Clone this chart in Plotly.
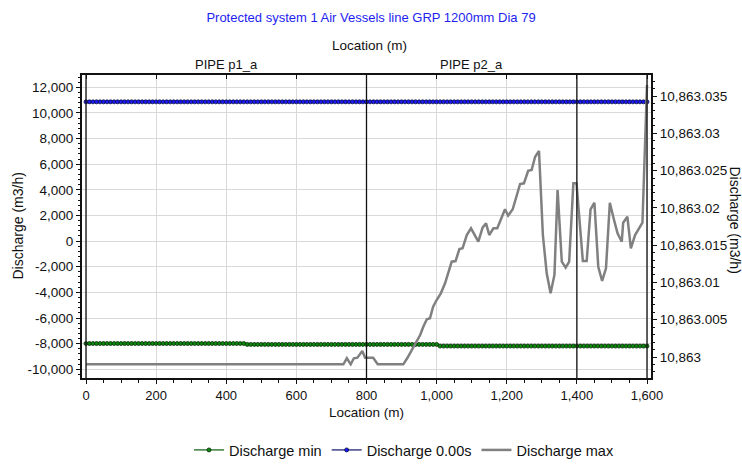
import plotly.graph_objects as go

# ---- data -------------------------------------------------------------
chart_title = "Protected system 1 Air Vessels line GRP 1200mm Dia 79"

# node locations along the line (m) for the steady / minimum envelopes
location_m = list(range(0, 1601, 10))

# initial (t = 0.00 s) discharge, constant along the line (m3/h)
initial_discharge = 10863.0

# minimum discharge envelope: piecewise constant levels (m3/h)
min_break_m = [0, 460, 1010]
min_level = [-7990, -8060, -8190]

# maximum discharge envelope (m3/h), plotted on the right-hand axis
max_location_m = [
    0, 734, 744, 755, 764, 774, 788, 796, 808, 819, 832, 905, 916, 929, 941,
    953, 962, 972, 981, 990, 1000, 1012, 1024, 1043, 1054, 1065, 1074, 1086,
    1098, 1119, 1131, 1141, 1150, 1162, 1173, 1186, 1195, 1204, 1217, 1238,
    1249, 1261, 1271, 1281, 1292, 1303, 1314, 1325, 1336, 1345, 1357, 1368,
    1378, 1390, 1399, 1417, 1428, 1439, 1450, 1461, 1472, 1483, 1494, 1506,
    1516, 1528, 1532, 1544, 1554, 1566, 1580, 1587, 1600,
]
discharge_max = [
    10862.99902, 10862.99902, 10862.99983, 10862.99902, 10862.99983,
    10862.99991, 10863.00080, 10862.99991, 10862.99991, 10862.99991,
    10862.99902, 10862.99902, 10862.99983, 10863.00094, 10863.00205,
    10863.00295, 10863.00406, 10863.00506, 10863.00519, 10863.00675,
    10863.00764, 10863.00854, 10863.00988, 10863.01278, 10863.01287,
    10863.01448, 10863.01458, 10863.01636, 10863.01726, 10863.01546,
    10863.01734, 10863.01793, 10863.01636, 10863.01726, 10863.01726,
    10863.01881, 10863.01981, 10863.01895, 10863.01981, 10863.02320,
    10863.02329, 10863.02498, 10863.02508, 10863.02686, 10863.02763,
    10863.01636, 10863.01122, 10863.00854, 10863.01100, 10863.02239,
    10863.01278, 10863.01198, 10863.01278, 10863.02329, 10863.02329,
    10863.01287, 10863.01287, 10863.01981, 10863.02069, 10863.01211,
    10863.01019, 10863.01189, 10863.02069, 10863.01837, 10863.01659,
    10863.01546, 10863.01801, 10863.01881, 10863.01458, 10863.01636,
    10863.01747, 10863.01801, 10863.03648,
]

# pipe boundaries and names (m)
pipe_bounds_m = [0, 800, 1400, 1600]
pipe_names = ["PIPE p1_a", "PIPE p2_a"]

# tick labels
x_tick_vals = [0, 200, 400, 600, 800, 1000, 1200, 1400, 1600]
x_tick_text = ["0", "200", "400", "600", "800", "1,000", "1,200", "1,400", "1,600"]
left_tick_vals = [-10000, -8000, -6000, -4000, -2000, 0, 2000, 4000, 6000,
                  8000, 10000, 12000]
left_tick_text = ["-10,000", "-8,000", "-6,000", "-4,000", "-2,000", "0",
                  "2,000", "4,000", "6,000", "8,000", "10,000", "12,000"]
right_tick_vals = [10863.0, 10863.005, 10863.01, 10863.015, 10863.02,
                   10863.025, 10863.03, 10863.035]
right_tick_text = ["10,863", "10,863.005", "10,863.01", "10,863.015",
                   "10,863.02", "10,863.025", "10,863.03", "10,863.035"]

# ---- derived series ---------------------------------------------------
discharge_initial = [initial_discharge for _ in location_m]
discharge_min = []
for x in location_m:
    level = min_level[0]
    for b, v in zip(min_break_m, min_level):
        if x >= b:
            level = v
    discharge_min.append(level)

pipe_centres = [(a + b) / 2 for a, b in zip(pipe_bounds_m[:-1], pipe_bounds_m[1:])]

# ---- figure -----------------------------------------------------------
FONT = "Liberation Sans, Arial, sans-serif"
INK = "#111111"
x_range = [-11.4, 1611.4]

fig = go.Figure()

fig.add_trace(go.Scatter(
    x=location_m, y=discharge_min, name="Discharge min",
    mode="lines+markers",
    line=dict(color="#0a5a0a", width=1.2),
    marker=dict(symbol="circle", size=4, color="#0a8a0a",
                line=dict(color="#0b2a0b", width=0.8)),
))
fig.add_trace(go.Scatter(
    x=location_m, y=discharge_initial, name="Discharge 0.00s",
    mode="lines+markers",
    line=dict(color="#10106a", width=1.2),
    marker=dict(symbol="circle", size=4, color="#1a1aff",
                line=dict(color="#0a0a40", width=0.8)),
))
fig.add_trace(go.Scatter(
    x=max_location_m, y=discharge_max, name="Discharge max",
    mode="lines",
    line=dict(color="#808080", width=2.5),
    xaxis="x2", yaxis="y2",
))

# pipe boundary markers
for b in pipe_bounds_m:
    fig.add_shape(type="line", xref="x", yref="paper", x0=b, x1=b, y0=0, y1=1,
                  line=dict(color=INK, width=1.3), layer="above")

annotations = []
for c, name in zip(pipe_centres, pipe_names):
    annotations.append(dict(x=c, y=1.036, xref="x", yref="paper", text=name,
                            showarrow=False, font=dict(size=13, color=INK),
                            xanchor="center", yanchor="middle"))
annotations += [
    dict(x=0.505, y=1.099, xref="paper", yref="paper", text="Location (m)",
         showarrow=False, font=dict(size=13.5, color=INK),
         xanchor="center", yanchor="middle"),
    dict(x=0.5, y=-0.1155, xref="paper", yref="paper", text="Location (m)",
         showarrow=False, font=dict(size=13.5, color=INK),
         xanchor="center", yanchor="middle"),
    dict(x=-0.1142, y=0.5, xref="paper", yref="paper", text="Discharge (m3/h)",
         showarrow=False, textangle=-90, font=dict(size=14, color=INK),
         xanchor="center", yanchor="middle"),
    dict(x=1.1476, y=0.52, xref="paper", yref="paper", text="Discharge (m3/h)",
         showarrow=False, textangle=90, font=dict(size=14, color=INK),
         xanchor="center", yanchor="middle"),
]

axis_common = dict(showline=True, linecolor=INK, linewidth=2,
                   zeroline=False, ticks="outside", ticklen=4,
                   tickcolor=INK)

fig.update_layout(
    width=742, height=464,
    margin=dict(l=82, r=91, t=75, b=86, autoexpand=False),
    paper_bgcolor="white", plot_bgcolor="white",
    font=dict(family=FONT, color=INK),
    title=dict(text=chart_title, x=0.5, xanchor="center", y=1 - 17 / 464,
               yanchor="middle", font=dict(size=13, color="#1e1ef0")),
    showlegend=True,
    legend=dict(orientation="h", xref="container", yref="container",
                x=404 / 742, xanchor="center", y=1 - 450 / 464,
                yanchor="middle", font=dict(size=14.5, color=INK),
                itemwidth=30, bgcolor="rgba(0,0,0,0)"),
    annotations=annotations,
    xaxis=dict(range=x_range, tickvals=x_tick_vals, ticktext=x_tick_text,
               showgrid=True, gridcolor="#d9d9d9", gridwidth=1,
               tickfont=dict(size=13, color=INK),
               minor=dict(dtick=50, tick0=0, ticks="outside", ticklen=3,
                          tickcolor=INK, showgrid=False),
               **axis_common),
    xaxis2=dict(range=x_range, overlaying="x", side="top", anchor="y2",
                showline=True, linecolor=INK, linewidth=2,
                zeroline=False, showgrid=False, showticklabels=False,
                ticks="inside", ticklen=4, tickcolor=INK,
                tickvals=x_tick_vals),
    yaxis=dict(range=[-10680, 12958], tickvals=left_tick_vals,
               ticktext=left_tick_text, showgrid=True, gridcolor="#d9d9d9",
               gridwidth=1, tickfont=dict(size=13.5, color=INK),
               minor=dict(dtick=400, tick0=0, ticks="outside", ticklen=2,
                          tickcolor=INK, showgrid=False),
               **axis_common),
    yaxis2=dict(range=[10862.997184, 10863.037817], overlaying="y",
                side="right", anchor="x", tickvals=right_tick_vals,
                ticktext=right_tick_text, showgrid=False,
                tickfont=dict(size=13.5, color=INK),
                minor=dict(dtick=0.001, tick0=10863.0, ticks="outside",
                           ticklen=2, tickcolor=INK, showgrid=False),
                **axis_common),
)

fig.write_html("out.html")
